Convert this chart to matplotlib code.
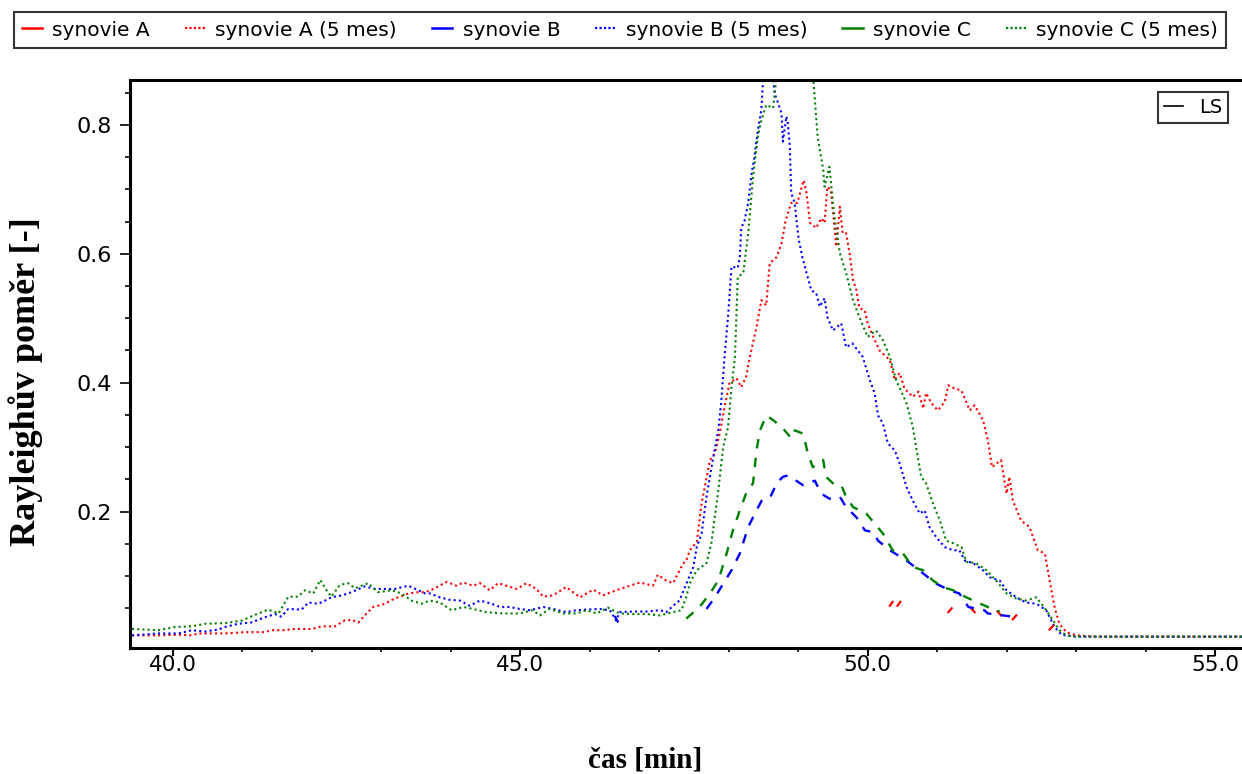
import numpy as np
import matplotlib
matplotlib.use("Agg")
import matplotlib.pyplot as plt
from matplotlib.lines import Line2D
from matplotlib.ticker import FixedLocator, FormatStrFormatter

# --- data (time in min, Rayleigh ratio) ---
tail_x = [53.3, 53.6, 54.0, 54.4, 54.8, 55.2, 55.4]
tail_y = [0.006] * len(tail_x)

a5_x = [39.41, 39.79, 40.13, 40.27, 40.36, 40.56, 40.75, 41.04, 41.32, 41.42, 41.61, 41.76,
        42.00, 42.14, 42.33, 42.47, 42.57, 42.67, 42.76, 42.88, 42.95, 43.05, 43.15, 43.24,
        43.39, 43.53, 43.63, 43.75, 43.94, 44.08, 44.18, 44.32, 44.42, 44.56, 44.68, 44.80,
        44.95, 45.09, 45.23, 45.33, 45.47, 45.66, 45.86, 46.05, 46.19, 46.38, 46.58, 46.72,
        46.91, 46.98, 47.10, 47.20, 47.34, 47.39, 47.44, 47.54, 47.61, 47.73, 47.80, 47.87,
        47.94, 48.01, 48.11, 48.18, 48.25, 48.30, 48.40, 48.47, 48.54, 48.59, 48.69, 48.76,
        48.82, 48.90, 48.99, 49.05, 49.08, 49.12, 49.17, 49.26, 49.33, 49.38, 49.42, 49.47,
        49.53, 49.55, 49.60, 49.64, 49.69, 49.74, 49.79, 49.84, 49.88, 49.96, 50.00, 50.08,
        50.17, 50.32, 50.39, 50.46, 50.53, 50.65, 50.73, 50.80, 50.84, 50.92, 51.01, 51.11,
        51.16, 51.25, 51.35, 51.47, 51.54, 51.66, 51.73, 51.79, 51.92, 52.00, 52.04, 52.09,
        52.21, 52.33, 52.45, 52.55, 52.62, 52.69, 52.76, 52.86, 53.00] + tail_x
a5_y = [0.008, 0.008, 0.009, 0.008, 0.011, 0.011, 0.011, 0.013, 0.013, 0.016, 0.016, 0.018,
        0.018, 0.022, 0.022, 0.031, 0.032, 0.028, 0.039, 0.052, 0.054, 0.057, 0.063, 0.067,
        0.073, 0.075, 0.075, 0.080, 0.091, 0.085, 0.090, 0.085, 0.089, 0.078, 0.089, 0.085,
        0.080, 0.089, 0.080, 0.068, 0.070, 0.083, 0.067, 0.079, 0.070, 0.078, 0.085, 0.090,
        0.085, 0.102, 0.093, 0.089, 0.119, 0.124, 0.140, 0.153, 0.213, 0.280, 0.290, 0.321,
        0.362, 0.399, 0.407, 0.393, 0.409, 0.438, 0.486, 0.528, 0.520, 0.585, 0.595, 0.616,
        0.652, 0.679, 0.679, 0.704, 0.714, 0.694, 0.648, 0.640, 0.655, 0.648, 0.704, 0.699,
        0.632, 0.611, 0.673, 0.632, 0.632, 0.601, 0.559, 0.543, 0.516, 0.512, 0.492, 0.471,
        0.450, 0.435, 0.404, 0.415, 0.391, 0.378, 0.386, 0.360, 0.384, 0.368, 0.357, 0.370,
        0.396, 0.391, 0.388, 0.357, 0.365, 0.342, 0.311, 0.269, 0.280, 0.228, 0.254, 0.217,
        0.186, 0.176, 0.140, 0.135, 0.093, 0.052, 0.026, 0.013, 0.008] + tail_y

b5_x = [39.41, 39.79, 40.08, 40.27, 40.46, 40.65, 40.75, 40.94, 41.13, 41.32, 41.47, 41.56,
        41.66, 41.85, 41.95, 42.09, 42.19, 42.28, 42.43, 42.57, 42.76, 42.91, 43.05, 43.19,
        43.39, 43.53, 43.63, 43.70, 43.84, 43.99, 44.13, 44.27, 44.42, 44.56, 44.71, 44.85,
        44.99, 45.14, 45.33, 45.47, 45.66, 45.81, 45.95, 46.14, 46.29, 46.38, 46.43, 46.62,
        46.82, 47.01, 47.10, 47.20, 47.29, 47.39, 47.49, 47.54, 47.61, 47.68, 47.77, 47.85,
        47.89, 47.94, 47.99, 48.04, 48.13, 48.16, 48.18, 48.23, 48.28, 48.33, 48.37, 48.42,
        48.47, 48.49, 48.53, 48.58, 48.62, 48.66, 48.71, 48.76, 48.78, 48.83, 48.85, 48.88,
        48.90, 48.95, 48.97, 49.01, 49.06, 49.12, 49.19, 49.26, 49.31, 49.38, 49.42, 49.50,
        49.62, 49.69, 49.78, 49.93, 50.03, 50.10, 50.15, 50.22, 50.29, 50.39, 50.46, 50.56,
        50.65, 50.75, 50.82, 50.89, 50.99, 51.11, 51.23, 51.32, 51.40, 51.52, 51.66, 51.76,
        51.90, 52.00, 52.14, 52.28, 52.43, 52.57, 52.69, 52.79, 53.00] + tail_x
b5_y = [0.008, 0.011, 0.011, 0.016, 0.014, 0.017, 0.021, 0.026, 0.028, 0.036, 0.041, 0.037,
        0.049, 0.048, 0.059, 0.057, 0.062, 0.067, 0.070, 0.075, 0.084, 0.080, 0.080, 0.080,
        0.085, 0.078, 0.073, 0.073, 0.067, 0.063, 0.062, 0.054, 0.062, 0.058, 0.052, 0.052,
        0.049, 0.047, 0.052, 0.049, 0.044, 0.047, 0.048, 0.049, 0.047, 0.031, 0.044, 0.045,
        0.045, 0.047, 0.044, 0.054, 0.062, 0.088, 0.114, 0.145, 0.166, 0.223, 0.280, 0.326,
        0.368, 0.440, 0.502, 0.580, 0.578, 0.595, 0.640, 0.652, 0.679, 0.725, 0.750, 0.792,
        0.823, 0.862, 0.920, 0.880, 0.900, 0.849, 0.834, 0.818, 0.774, 0.813, 0.803, 0.766,
        0.694, 0.679, 0.657, 0.621, 0.595, 0.570, 0.543, 0.539, 0.518, 0.531, 0.502, 0.481,
        0.492, 0.455, 0.461, 0.440, 0.404, 0.384, 0.349, 0.337, 0.306, 0.295, 0.275, 0.238,
        0.217, 0.197, 0.202, 0.176, 0.160, 0.145, 0.140, 0.140, 0.124, 0.120, 0.109, 0.098,
        0.093, 0.078, 0.067, 0.059, 0.057, 0.047, 0.021, 0.009, 0.006] + tail_y

c5_x = [39.41, 39.79, 40.03, 40.27, 40.46, 40.75, 40.99, 41.23, 41.37, 41.52, 41.66, 41.80,
        41.90, 42.02, 42.12, 42.21, 42.28, 42.40, 42.52, 42.62, 42.81, 42.95, 43.15, 43.29,
        43.43, 43.58, 43.70, 43.84, 44.01, 44.18, 44.32, 44.51, 44.75, 44.99, 45.18, 45.28,
        45.42, 45.62, 45.81, 45.95, 46.10, 46.26, 46.43, 46.62, 46.82, 47.01, 47.20, 47.32,
        47.39, 47.44, 47.54, 47.68, 47.75, 47.85, 47.92, 47.99, 48.04, 48.09, 48.13, 48.21,
        48.28, 48.35, 48.42, 48.47, 48.54, 48.64, 48.68, 48.80, 49.00, 49.15, 49.22, 49.28,
        49.36, 49.38, 49.45, 49.50, 49.53, 49.60, 49.69, 49.79, 49.88, 50.00, 50.12, 50.22,
        50.32, 50.41, 50.56, 50.65, 50.77, 50.84, 50.94, 51.04, 51.13, 51.23, 51.35, 51.42,
        51.56, 51.71, 51.85, 52.00, 52.14, 52.28, 52.43, 52.57, 52.67, 52.76, 52.86, 53.00] + tail_x
c5_y = [0.018, 0.016, 0.021, 0.022, 0.026, 0.027, 0.031, 0.042, 0.048, 0.042, 0.068, 0.068,
        0.078, 0.073, 0.094, 0.078, 0.068, 0.086, 0.089, 0.081, 0.089, 0.075, 0.078, 0.073,
        0.062, 0.057, 0.062, 0.059, 0.047, 0.052, 0.049, 0.044, 0.042, 0.042, 0.047, 0.039,
        0.049, 0.042, 0.042, 0.047, 0.042, 0.051, 0.042, 0.041, 0.041, 0.039, 0.044, 0.047,
        0.068, 0.089, 0.109, 0.120, 0.151, 0.233, 0.300, 0.331, 0.393, 0.440, 0.564, 0.570,
        0.632, 0.719, 0.782, 0.807, 0.831, 0.826, 0.867, 1.000, 1.050, 0.950, 0.867, 0.782,
        0.730, 0.704, 0.735, 0.679, 0.652, 0.601, 0.570, 0.528, 0.502, 0.471, 0.481, 0.466,
        0.440, 0.404, 0.368, 0.331, 0.254, 0.244, 0.213, 0.186, 0.155, 0.151, 0.145, 0.122,
        0.120, 0.109, 0.093, 0.073, 0.065, 0.062, 0.067, 0.047, 0.031, 0.016, 0.008, 0.006] + tail_y

# fresh samples: only short pieces were recorded
a_x = [50.32, 50.36, np.nan, 50.43, 50.47, np.nan, 51.16, 51.21, np.nan, 51.49, 51.54, np.nan,
       51.87, 51.92, np.nan, 52.09, 52.14, np.nan, 52.62, 52.67]
a_y = [0.054, 0.060, np.nan, 0.054, 0.060, np.nan, 0.044, 0.050, np.nan, 0.050, 0.044, np.nan,
       0.045, 0.039, np.nan, 0.033, 0.039, np.nan, 0.017, 0.023]

b_x = [46.36, 46.41, np.nan, 47.68, 47.80, 47.92, 48.04, 48.16, 48.28, 48.40, 48.49, 48.61,
       48.69, 48.78, 48.85, 48.97, 49.07, 49.24, 49.33, 49.45, 49.60, 49.69, 49.84, 49.96,
       50.08, 50.15, 50.32, 50.56, 50.80, 50.99, 51.18, 51.32, 51.45, 51.68, 51.73, 52.16]
b_y = [0.038, 0.028, np.nan, 0.049, 0.067, 0.088, 0.109, 0.135, 0.176, 0.202, 0.220, 0.225,
       0.244, 0.254, 0.256, 0.248, 0.241, 0.248, 0.228, 0.220, 0.223, 0.207, 0.191, 0.171,
       0.168, 0.155, 0.140, 0.124, 0.104, 0.088, 0.078, 0.073, 0.052, 0.047, 0.042, 0.036]

c_x = [47.39, 47.58, 47.73, 47.85, 47.97, 48.06, 48.16, 48.25, 48.35, 48.40, 48.45, 48.54,
       48.64, 48.78, 48.90, 48.95, 49.07, 49.14, 49.21, 49.36, 49.40, 49.50, 49.62, 49.69,
       49.79, 49.98, 50.12, 50.22, 50.36, 50.51, 50.65, 50.80, 50.94, 51.08, 51.23, 51.42,
       51.73, 51.90]
c_y = [0.034, 0.052, 0.073, 0.093, 0.135, 0.171, 0.202, 0.228, 0.244, 0.295, 0.326, 0.349,
       0.342, 0.329, 0.314, 0.326, 0.321, 0.290, 0.269, 0.280, 0.254, 0.244, 0.241, 0.223,
       0.207, 0.197, 0.179, 0.166, 0.140, 0.135, 0.114, 0.109, 0.093, 0.083, 0.078, 0.067,
       0.052, 0.045]

labels = ["synovie A", "synovie A (5 mes)", "synovie B", "synovie B (5 mes)",
          "synovie C", "synovie C (5 mes)"]
RED, BLUE, GREEN = "#ff0000", "#0000ff", "#008000"
DOT = (0, (1, 1.5))
DASH = (0, (4, 4))

fig = plt.figure(figsize=(12.42, 7.74), dpi=100)
ax = fig.add_axes([130 / 1242, 1 - 648 / 774, 1 - 130 / 1242, 568 / 774])

ax.plot(a5_x, a5_y, color=RED, ls=DOT, lw=1.5)
ax.plot(b5_x, b5_y, color=BLUE, ls=DOT, lw=1.5)
ax.plot(c5_x, c5_y, color=GREEN, ls=DOT, lw=1.5)
ax.plot(a_x, a_y, color=RED, ls="-", lw=1.6)
ax.plot(b_x, b_y, color=BLUE, ls=DASH, lw=1.7)
ax.plot(c_x, c_y, color=GREEN, ls=DASH, lw=1.7)

ax.set_xlim(39.381, 55.389)
ax.set_ylim(-0.0116, 0.8696)

ax.xaxis.set_major_locator(FixedLocator([40, 45, 50, 55]))
ax.xaxis.set_minor_locator(FixedLocator([41, 42, 43, 44, 46, 47, 48, 49, 51, 52, 53, 54]))
ax.yaxis.set_major_locator(FixedLocator([0.2, 0.4, 0.6, 0.8]))
ax.yaxis.set_minor_locator(FixedLocator([0.05, 0.1, 0.15, 0.25, 0.3, 0.35, 0.45, 0.5,
                                         0.55, 0.65, 0.7, 0.75, 0.85]))
ax.xaxis.set_major_formatter(FormatStrFormatter("%.1f"))
ax.yaxis.set_major_formatter(FormatStrFormatter("%.1f"))

ax.spines["right"].set_visible(False)
for s in ("left", "bottom", "top"):
    ax.spines[s].set_linewidth(2.2)
ax.tick_params(axis="x", which="major", direction="out", length=5.8, width=1.5,
               pad=-0.5, labelsize=15.5)
ax.tick_params(axis="x", which="minor", direction="out", length=3, width=1.2)
ax.tick_params(axis="y", which="major", direction="out", length=7, width=1.2,
               pad=6, labelsize=16)
ax.tick_params(axis="y", which="minor", direction="out", length=3.5, width=1.2)

ax.set_xlabel("čas [min]", family="Liberation Serif", fontweight="bold", fontsize=21)
ax.xaxis.set_label_coords((645 - 130) / 1112, (648 - 760) / 568)
ax.xaxis.label.set_va("center")
ax.set_ylabel("Rayleighův poměr [-]", family="Liberation Serif", fontweight="bold",
              fontsize=26)
ax.yaxis.set_label_coords((26 - 130) / 1112, (648 - 382) / 568)
ax.yaxis.label.set_va("center")

handles = [
    Line2D([], [], color=RED, ls="-", lw=1.8),
    Line2D([], [], color=RED, ls=(0, (1, 1)), lw=1.6),
    Line2D([], [], color=BLUE, ls="-", lw=1.8),
    Line2D([], [], color=BLUE, ls=(0, (1, 1)), lw=1.6),
    Line2D([], [], color=GREEN, ls="-", lw=1.8),
    Line2D([], [], color=GREEN, ls=(0, (1, 1)), lw=1.6),
]
leg = fig.legend(handles, labels, loc="center", bbox_to_anchor=(620 / 1242, 1 - 30 / 774),
                 ncol=6, fontsize=14.5, frameon=True, fancybox=False, edgecolor="black",
                 handlelength=1.0, handletextpad=0.5, columnspacing=1.75, borderpad=0.4)
leg.get_frame().set_linewidth(1.5)

ls_leg = ax.legend([Line2D([], [], color="black", lw=1.2)], ["LS"], loc="upper right",
                   bbox_to_anchor=((1228 - 130) / 1112, (648 - 92) / 568),
                   borderaxespad=0, fontsize=14, frameon=True, fancybox=False,
                   edgecolor="black", handlelength=1.0, handletextpad=0.8, borderpad=0.3)
ls_leg.get_frame().set_linewidth(1.5)

fig.savefig("out.png", dpi=100)
